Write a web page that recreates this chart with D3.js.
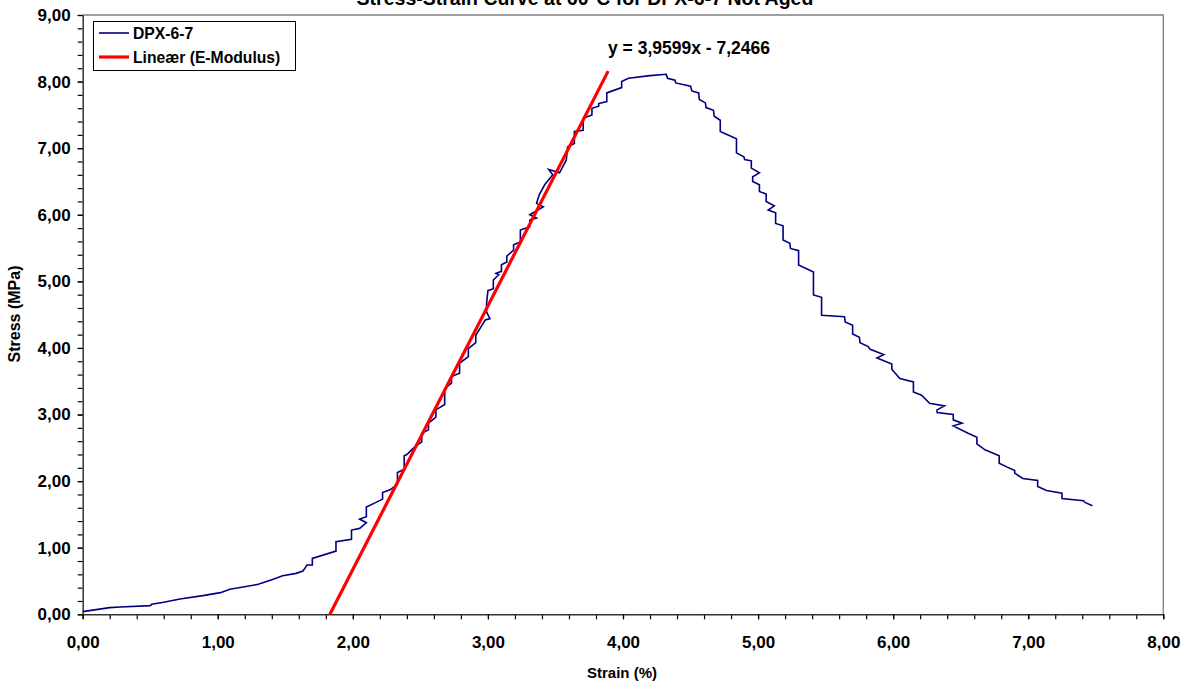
<!DOCTYPE html>
<html>
<head>
<meta charset="utf-8">
<script src="https://cdn.jsdelivr.net/npm/d3@7"></script>
<style>
  body { margin: 0; background: #fff; }
  text { font-family: "Liberation Sans", Arial, sans-serif; font-weight: bold; fill: #000; }
</style>
</head>
<body>
<script>
// measured curve (strain %, stress MPa)
var strain = [0.00,0.10,0.20,0.28,0.50,0.51,0.60,0.72,0.89,1.02,1.09,1.30,1.40,1.48,1.58,1.63,1.645,1.66,1.70,1.70,
  1.875,1.875,1.99,1.99,2.05,2.10,2.05,2.10,2.10,2.16,2.22,2.22,2.275,2.33,2.33,2.38,2.38,2.40,2.45,2.51,
  2.51,2.56,2.56,2.615,2.615,2.68,2.68,2.73,2.73,2.79,2.79,2.855,2.855,2.91,2.91,2.95,2.98,3.015,2.99,2.99,
  3.00,3.04,3.04,3.08,3.06,3.10,3.10,3.14,3.14,3.19,3.19,3.24,3.24,3.31,3.31,3.36,3.31,3.41,3.36,3.38,
  3.42,3.48,3.45,3.53,3.58,3.59,3.64,3.64,3.705,3.705,3.77,3.77,3.82,3.82,3.88,3.88,3.99,3.99,4.04,4.20,
  4.32,4.33,4.385,4.39,4.50,4.51,4.56,4.565,4.61,4.615,4.67,4.675,4.72,4.72,4.84,4.84,4.895,4.90,4.95,4.95,
  5.01,4.96,4.96,5.01,5.01,5.06,5.06,5.12,5.075,5.13,5.13,5.185,5.185,5.235,5.24,5.30,5.30,5.41,5.41,5.47,
  5.47,5.64,5.645,5.70,5.70,5.75,5.755,5.815,5.83,5.93,5.88,5.99,5.99,6.05,6.15,6.15,6.21,6.27,6.38,6.325,
  6.325,6.445,6.445,6.51,6.445,6.555,6.62,6.62,6.68,6.785,6.785,6.845,6.90,6.90,6.96,7.07,7.07,7.135,7.25,7.25,
  7.41,7.42,7.475];
var stress = [0.04,0.07,0.10,0.11,0.13,0.15,0.18,0.23,0.28,0.325,0.375,0.45,0.52,0.58,0.615,0.65,0.69,0.74,0.74,0.84,
  0.95,1.09,1.125,1.265,1.29,1.375,1.43,1.465,1.61,1.67,1.73,1.83,1.87,1.95,2.13,2.18,2.38,2.40,2.50,2.59,
  2.72,2.77,2.87,2.96,3.07,3.15,3.39,3.47,3.57,3.62,3.77,3.87,3.99,4.08,4.19,4.32,4.42,4.44,4.54,4.67,
  4.86,4.89,5.02,5.10,5.12,5.15,5.25,5.29,5.38,5.47,5.55,5.59,5.77,5.82,5.92,5.95,6.00,6.12,6.17,6.30,
  6.45,6.60,6.68,6.63,6.82,7.02,7.07,7.25,7.27,7.45,7.50,7.60,7.63,7.67,7.70,7.83,7.91,8.00,8.05,8.09,
  8.11,8.05,8.02,7.98,7.93,7.86,7.83,7.73,7.68,7.61,7.57,7.48,7.42,7.25,7.14,6.93,6.87,6.83,6.81,6.70,
  6.63,6.57,6.50,6.45,6.35,6.31,6.20,6.135,6.07,6.03,5.87,5.835,5.62,5.57,5.495,5.46,5.245,5.14,4.795,4.76,
  4.49,4.47,4.39,4.34,4.21,4.16,4.08,4.02,3.98,3.90,3.85,3.76,3.68,3.54,3.49,3.34,3.29,3.17,3.13,3.07,
  3.03,3.00,2.92,2.87,2.83,2.72,2.66,2.56,2.47,2.38,2.27,2.21,2.16,2.12,2.04,2.01,1.92,1.86,1.82,1.74,
  1.705,1.68,1.63];

// linear fit shown on chart
var slope = 3.9599, intercept = -7.2466;
var fitStrain = [1.83, 3.89];

var xTicks = [0, 1, 2, 3, 4, 5, 6, 7, 8];
var yTicks = [0, 1, 2, 3, 4, 5, 6, 7, 8, 9];
var legendLabels = ["DPX-6-7", "Lineær (E-Modulus)"];

var width = 1187, height = 682;
var plotLeft = 82.7, plotRight = 1163.3, plotTop = 15, plotBottom = 614.3;

var svg = d3.select("body").append("svg")
    .attr("width", width)
    .attr("height", height);

var x = d3.scaleLinear().domain([0, 8]).range([plotLeft, plotRight]);
var y = d3.scaleLinear().domain([0, 9]).range([plotBottom, plotTop]);

var fmt = d3.formatLocale({decimal: ",", thousands: ".", grouping: [3], currency: ["", ""]}).format(".2f");

// plot frame (top/right grey)
svg.append("path")
    .attr("d", "M" + plotLeft + "," + plotTop + "H" + plotRight + "V" + plotBottom)
    .attr("fill", "none")
    .attr("stroke", "#808080")
    .attr("stroke-width", 1.3);

// minor ticks
var minorX = d3.range(0, 8.001, 0.2), minorY = d3.range(0, 9.001, 0.2);
svg.append("g")
    .attr("transform", "translate(0," + plotBottom + ")")
    .call(d3.axisBottom(x).tickValues(minorX).tickSize(5).tickFormat(""))
    .call(function(g) { g.select(".domain").remove(); });
svg.append("g")
    .attr("transform", "translate(" + plotLeft + ",0)")
    .call(d3.axisLeft(y).tickValues(minorY).tickSize(5).tickFormat(""))
    .call(function(g) { g.select(".domain").remove(); });

svg.append("g")
    .attr("transform", "translate(0," + plotBottom + ")")
    .call(d3.axisBottom(x).tickValues(xTicks).tickSize(5).tickSizeOuter(0).tickPadding(17).tickFormat(fmt));
svg.append("g")
    .attr("transform", "translate(" + plotLeft + ",0)")
    .call(d3.axisLeft(y).tickValues(yTicks).tickSize(5).tickSizeOuter(0).tickPadding(7).tickFormat(fmt));

svg.selectAll(".tick line").attr("stroke", "#000").attr("stroke-width", 1.2);
svg.selectAll(".domain").attr("stroke", "#333").attr("stroke-width", 1.5);
svg.selectAll(".tick text").style("font-size", "17px").style("font-family", "Liberation Sans, Arial, sans-serif").style("font-weight", "bold");

// data curve
var pts = strain.map(function(d, i) { return [d, stress[i]]; });
svg.append("path")
    .datum(pts)
    .attr("fill", "none")
    .attr("stroke", "#000080")
    .attr("stroke-width", 1.6)
    .attr("d", d3.line().x(function(d) { return x(d[0]); }).y(function(d) { return y(d[1]); }));

// fit line
svg.append("line")
    .attr("x1", x(fitStrain[0])).attr("y1", y(slope * fitStrain[0] + intercept))
    .attr("x2", x(fitStrain[1])).attr("y2", y(slope * fitStrain[1] + intercept))
    .attr("stroke", "#ff0000")
    .attr("stroke-width", 3.2);

svg.append("text")
    .attr("x", 689).attr("y", 54)
    .attr("text-anchor", "middle")
    .style("font-size", "17.5px")
    .text("y = 3,9599x - 7,2466");

// titles
svg.append("text")
    .attr("x", 585).attr("y", 5)
    .attr("text-anchor", "middle")
    .style("font-size", "19.5px")
    .text("Stress-Strain Curve at 60°C for DPX-6-7 Not Aged");

svg.append("text")
    .attr("x", 622).attr("y", 678)
    .attr("text-anchor", "middle")
    .style("font-size", "15px")
    .text("Strain (%)");

svg.append("text")
    .attr("transform", "translate(20,314) rotate(-90)")
    .attr("text-anchor", "middle")
    .style("font-size", "16px")
    .text("Stress (MPa)");

// legend
var lg = svg.append("g");
lg.append("rect")
    .attr("x", 93.5).attr("y", 21.5).attr("width", 202).attr("height", 49)
    .attr("fill", "#fff").attr("stroke", "#000").attr("stroke-width", 1);
var legendColors = ["#000080", "#ff0000"], legendWidths = [1.6, 3.2];
legendLabels.forEach(function(lab, i) {
  var yy = 33 + i * 24;
  lg.append("line").attr("x1", 99).attr("x2", 129).attr("y1", yy).attr("y2", yy)
    .attr("stroke", legendColors[i]).attr("stroke-width", legendWidths[i]);
  lg.append("text").attr("x", 133).attr("y", yy + 5.5)
    .style("font-size", "15.7px")
    .text(lab);
});
</script>
</body>
</html>
